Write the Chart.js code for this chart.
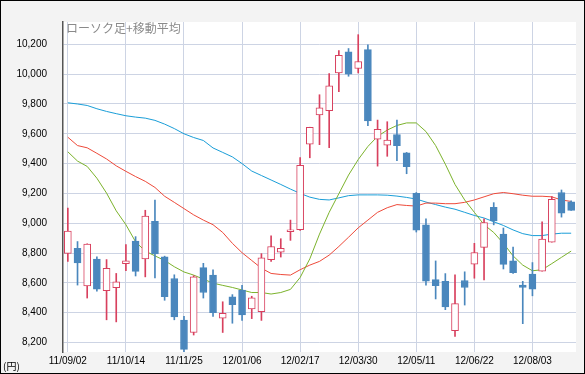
<!DOCTYPE html>
<html>
<head>
<meta charset="utf-8">
<script src="https://cdn.jsdelivr.net/npm/chart.js@4"></script>
<style>
  html, body { margin: 0; padding: 0; background: #fff; }
  #wrap { width: 585px; height: 374px; }
</style>
</head>
<body>
<div id="wrap"><canvas id="chart" width="585" height="374"></canvas></div>
<script>
// weekly candles
const weeks = [
  "11/09/02", "11/09/09", "11/09/16", "11/09/23", "11/09/30", "11/10/07",
  "11/10/14", "11/10/21", "11/10/28", "11/11/04", "11/11/11", "11/11/18",
  "11/11/25", "11/12/02", "11/12/09", "11/12/16", "11/12/23", "11/12/30",
  "12/01/06", "12/01/13", "12/01/20", "12/01/27", "12/02/03", "12/02/10",
  "12/02/17", "12/02/24", "12/03/02", "12/03/09", "12/03/16", "12/03/23",
  "12/03/30", "12/04/06", "12/04/13", "12/04/20", "12/04/27", "12/05/04",
  "12/05/11", "12/05/18", "12/05/25", "12/06/01", "12/06/08", "12/06/15",
  "12/06/22", "12/06/29", "12/07/06", "12/07/13", "12/07/20", "12/07/27",
  "12/08/03", "12/08/10", "12/08/17", "12/08/24", "12/08/31"
];
const xTickLabels = ["11/09/02", "11/10/14", "11/11/25", "12/01/06", "12/02/17",
  "12/03/30", "12/05/11", "12/06/22", "12/08/03"];
const yTicks = [8200, 8400, 8600, 8800, 9000, 9200, 9400, 9600, 9800, 10000, 10200];

const open = [
  8798, 8831, 8579, 8760, 8548, 8567, 8729, 8881, 8760, 9013,
  8775, 8629, 8350, 8267, 8702, 8652, 8363, 8506, 8552, 8425,
  8406, 8756, 8806, 8944, 8956, 9531, 9727, 9755, 10008, 10150,
  10038, 10165, 9564, 9523, 9595, 9472, 9200, 8989, 8622, 8610,
  8279, 8616, 8726, 8838, 9107, 8927, 8747, 8585, 8658, 8678,
  8873, 9206, 9144
];
const high = [
  9101, 8877, 8862, 8775, 8756, 8663, 8856, 8910, 9087, 9156,
  8779, 8654, 8375, 8648, 8731, 8688, 8473, 8521, 8583, 8510,
  8796, 8915, 8896, 9021, 9441, 9644, 9862, 10004, 10158, 10172,
  10265, 10196, 9692, 9681, 9692, 9475, 9206, 9030, 8747, 8662,
  8654, 8674, 8865, 9030, 9138, 8968, 8840, 8610, 8736, 9010,
  9179, 9223, 9150
];
const low = [
  8744, 8585, 8498, 8544, 8352, 8338, 8681, 8646, 8640, 8633,
  8483, 8352, 8133, 8250, 8498, 8375, 8267, 8329, 8348, 8360,
  8348, 8744, 8773, 8885, 8952, 9439, 9527, 9507, 9883, 9986,
  10008, 9655, 9383, 9449, 9420, 9332, 8941, 8585, 8492, 8420,
  8240, 8451, 8631, 8620, 8989, 8693, 8664, 8326, 8513, 8678,
  8873, 9041, 9086
];
const close = [
  8948, 8733, 8860, 8558, 8698, 8606, 8748, 8677, 9048, 8794,
  8508, 8371, 8154, 8640, 8535, 8400, 8396, 8454, 8385, 8500,
  8767, 8844, 8831, 8956, 9388, 9644, 9774, 9922, 10126, 10000,
  10085, 9686, 9630, 9558, 9521, 9379, 8954, 8612, 8581, 8438,
  8461, 8569, 8803, 9005, 9016, 8724, 8668, 8569, 8558, 8894,
  9161, 9068, 9086
];

// moving averages
const maShort = [
  9479, 9417, 9381, 9302, 9202, 9083, 8990, 8875, 8813, 8781,
  8750, 8708, 8673, 8652, 8625, 8598, 8583, 8569, 8552, 8535,
  8535, 8525, 8535, 8556, 8636, 8761, 8927, 9073, 9198, 9323,
  9427, 9515, 9583, 9625, 9656, 9673, 9673, 9615, 9521, 9396,
  9260, 9156, 9073, 8990, 8938, 8865, 8781, 8719, 8681, 8688,
  8729, 8771, 8813
];
const maMid = [
  9577, 9521, 9506, 9469, 9431, 9385, 9348, 9313, 9281, 9240,
  9181, 9140, 9098, 9056, 9021, 8990, 8938, 8865, 8802, 8750,
  8698, 8663, 8656, 8652, 8688, 8719, 8744, 8786, 8844, 8906,
  8969, 9021, 9073, 9104, 9125, 9119, 9115, 9135, 9135, 9131,
  9131, 9140, 9156, 9177, 9198, 9206, 9198, 9188, 9181, 9181,
  9177, 9156, 9146
];
const maLong = [
  9808, 9800, 9790, 9768, 9750, 9735, 9721, 9712, 9705, 9690,
  9665, 9635, 9600, 9575, 9555, 9505, 9475, 9445, 9400, 9350,
  9320, 9290, 9260, 9229, 9200, 9175, 9160, 9156, 9170, 9185,
  9190, 9190, 9190, 9188, 9182, 9173, 9162, 9142, 9125, 9108,
  9094, 9073, 9052, 9035, 9010, 8985, 8955, 8930, 8917, 8917,
  8927, 8933, 8933
];

const UP = "#d8405e";
const DOWN = "#4a87bd";

const isUp = close.map((c, i) => c >= open[i]);
const bodies = open.map((o, i) => [o, close[i]]);
const wicks = low.map((l, i) => [l, high[i]]);

// gray frame, white plot, title and unit
const framePlugin = {
  id: "frame",
  beforeDraw(chart) {
    const { ctx, chartArea: a } = chart;
    ctx.save();
    ctx.fillStyle = "#f3f3f3";
    ctx.fillRect(0, 0, chart.width, chart.height);
    ctx.fillStyle = "#ffffff";
    ctx.fillRect(a.left, a.top, a.right - a.left, a.bottom - a.top);
    ctx.restore();
  },
  afterDraw(chart) {
    const { ctx, chartArea: a } = chart;
    ctx.save();
    ctx.fillStyle = "#8a8a8a";
    ctx.font = '12px "Noto Sans CJK JP"';
    ctx.textBaseline = "top";
    ctx.fillText("ローソク足+移動平均", a.left + 3, a.top);
    ctx.fillStyle = "#000";
    ctx.font = '10px "Noto Sans CJK JP"';
    ctx.textBaseline = "middle";
    ctx.fillText("(円)", 3, 366);
    ctx.strokeStyle = "#000";
    ctx.lineWidth = 2;
    ctx.strokeRect(0, 0, chart.width, chart.height);
    ctx.restore();
  }
};

new Chart(document.getElementById("chart"), {
  type: "bar",
  data: {
    labels: weeks,
    datasets: [
      {
        type: "line", data: maLong, borderColor: "#1a9ed8", borderWidth: 1,
        pointRadius: 0, fill: false, order: 5
      },
      {
        type: "line", data: maMid, borderColor: "#ee4a3a", borderWidth: 1,
        pointRadius: 0, fill: false, order: 4
      },
      {
        type: "line", data: maShort, borderColor: "#7cb32c", borderWidth: 1,
        pointRadius: 0, fill: false, order: 3
      },
      {
        data: wicks,
        backgroundColor: isUp.map(u => (u ? UP : DOWN)),
        barThickness: 1,
        grouped: false,
        order: 2
      },
      {
        data: bodies,
        backgroundColor: isUp.map(u => (u ? "#ffffff" : DOWN)),
        borderColor: isUp.map(u => (u ? UP : DOWN)),
        borderWidth: 1,
        borderSkipped: false,
        barThickness: 7,
        grouped: false,
        order: 1
      }
    ]
  },
  options: {
    responsive: false,
    animation: false,
    layout: { padding: { left: 0, right: 9, top: 2, bottom: 0 } },
    plugins: {
      legend: { display: false },
      tooltip: { enabled: false }
    },
    scales: {
      x: {
        offset: true,
        afterFit: (scale) => { scale.height = 17; },
        grid: {
          offset: false,
          drawTicks: false,
          color: (ctx) => (ctx.index % 6 === 0 ? "#cdd4e4" : "rgba(0,0,0,0)")
        },
        border: { display: false },
        ticks: {
          autoSkip: false,
          maxRotation: 0,
          padding: 3,
          color: "#000",
          font: { family: '"Liberation Sans", Arial', size: 10 },
          callback: (v, i) => (i % 6 === 0 ? xTickLabels[i / 6] : "")
        }
      },
      y: {
        min: 8136,
        max: 10350,
        afterFit: (scale) => { scale.width = 63; },
        afterBuildTicks: (scale) => { scale.ticks = yTicks.map(v => ({ value: v })); },
        grid: { drawTicks: false, color: "#cdd4e4" },
        border: { color: "#555", width: 1.5 },
        ticks: {
          padding: 16,
          color: "#000",
          font: { family: '"Liberation Sans", Arial', size: 10 },
          callback: (v) => v.toLocaleString("en-US")
        }
      }
    }
  },
  plugins: [framePlugin]
});
</script>
</body>
</html>
